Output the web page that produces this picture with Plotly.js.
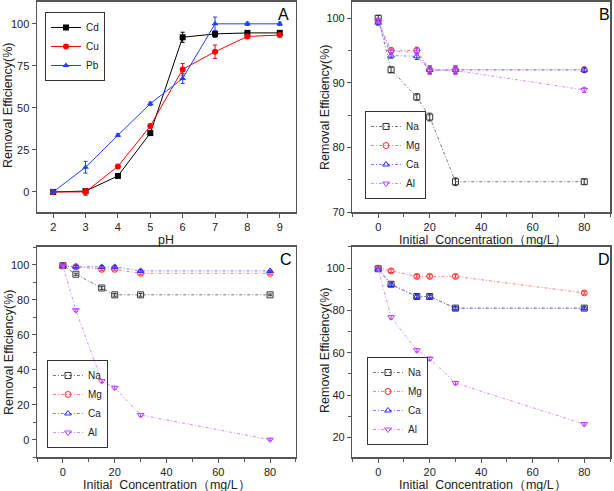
<!DOCTYPE html>
<html>
<head>
<meta charset="utf-8">
<script src="https://cdn.plot.ly/plotly-3.0.1.min.js"></script>
<style>html,body{margin:0;padding:0;background:#fff;}#chart{width:614px;height:491px;}</style>
</head>
<body>
<div id="chart"></div>
<script>
// ---- Panel A data (pH effect) ----
const pH = [2, 3, 4, 5, 6, 7, 8, 9];
const cdA = [0, 0.5, 9.5, 35, 92, 94, 94.6, 94.6];
const cuA = [0, 0, 15.2, 39.2, 72.9, 83.4, 92.5, 93.3];
const pbA = [0, 14.7, 33.7, 52.5, 67.5, 100, 100, 100];
const cdErr = [1, 1.5, 0.8, 1, 3, 2, 1, 1];
const cuErr = [1, 2, 0.8, 1, 3.5, 4, 1, 1];
const pbErr = [1, 3.5, 0.8, 1, 3, 4, 1, 1];

// ---- Panels B, C, D data (coexisting ions) ----
const conc = [0, 5, 15, 20, 30, 80];
const ions = ['Na', 'Mg', 'Ca', 'Al'];

const naB = [100, 92.0, 87.8, 84.7, 74.7, 74.7];
const mgB = [99.5, 95.0, 95.0, 92.0, 92.0, 92.0];
const caB = [99.3, 94.2, 94.1, 92.0, 92.0, 92.0];
const alB = [99.6, 94.8, 94.8, 91.9, 91.9, 88.9];
const errB = [0.4, 0.4, 0.5, 0.6, 0.6, 0.4];

const naC = [99.6, 94.7, 86.8, 82.9, 82.9, 82.9];
const mgC = [99.5, 99.0, 97.5, 97.5, 95.2, 95.2];
const caC = [99.5, 99.0, 98.9, 98.9, 96.6, 96.6];
const alC = [99.5, 74.1, 33.5, 29.7, 14.1, 0];
const errC = [0.5, 0.6, 0.8, 0.8, 0.8, 0.5];

const naD = [99.7, 92.4, 86.6, 86.6, 81.1, 81.1];
const mgD = [100, 98.7, 96.1, 96.1, 96.1, 88.3];
const caD = [99.5, 92.1, 86.6, 86.6, 81.0, 81.0];
const alD = [99.7, 76.8, 61.2, 57.2, 45.7, 26.3];
const errD = [0.5, 0.8, 0.8, 0.8, 0.8, 0.6];

const FONT = 'Liberation Sans, Arial, sans-serif';
const ionColors = {Na: '#333333', Mg: '#ff2a2a', Ca: '#2a2aff', Al: '#c040ff'};
const ionLine = {Na: '#777777', Mg: '#ff8080', Ca: '#8080ff', Al: '#dd88ff'};
const ionSymbol = {Na: 'square-open', Mg: 'circle-open', Ca: 'triangle-up-open', Al: 'triangle-down-open'};

const traces = [];
function aTrace(name, y, err, color, symbol) {
  traces.push({
    x: pH, y: y, name: name, type: 'scatter', mode: 'lines+markers',
    xaxis: 'x', yaxis: 'y', legend: 'legend',
    line: {color: color, width: 1},
    marker: {color: color, symbol: symbol, size: 6},
    error_y: {type: 'data', array: err, visible: true, color: color, thickness: 1, width: 2}
  });
}
aTrace('Cd', cdA, cdErr, '#000000', 'square');
aTrace('Cu', cuA, cuErr, '#ff0000', 'circle');
aTrace('Pb', pbA, pbErr, '#2040ff', 'triangle-up');

function ionTraces(data, err, ax, leg) {
  ions.forEach((ion, i) => {
    traces.push({
      x: conc, y: data[i], name: ion, type: 'scatter', mode: 'lines+markers',
      xaxis: 'x' + ax, yaxis: 'y' + ax, legend: leg,
      line: {color: ionLine[ion], width: 1, dash: '3px,2px,1px,2px'},
      marker: {color: ionColors[ion], symbol: ionSymbol[ion], size: 6, line: {width: 1, color: ionColors[ion]}},
      error_y: {type: 'data', array: err, visible: true, color: ionColors[ion], thickness: 1, width: 2}
    });
  });
}
ionTraces([naB, mgB, caB, alB], errB, '2', 'legend2');
ionTraces([naC, mgC, caC, alC], errC, '3', 'legend3');
ionTraces([naD, mgD, caD, alD], errD, '4', 'legend4');

const frame = {
  showline: true, mirror: true, linecolor: '#555555', linewidth: 1.5,
  ticks: 'outside', ticklen: 4, tickcolor: '#555555', tickwidth: 1,
  showgrid: false, zeroline: false,
  tickfont: {family: FONT, size: 11, color: '#222'},
};
function ax(dom, anchor, range, dtick, minor) {
  const o = Object.assign({}, frame, {domain: dom, anchor: anchor, range: range, dtick: dtick, tick0: 0});
  if (minor) o.minor = {dtick: minor, ticks: 'outside', ticklen: 3, tickcolor: '#555555'};
  return o;
}
const topY = [0.568, 0.996];
const botY = [0.069, 0.497];
const leftX = [0.0603, 0.482];
const rightX = [0.574, 0.9935];
const concTitle = 'Initial  Concentration（mg/L）';
const yTitle = 'Removal Efficiency(%)';

function legendAt(x, y, yanchor) {
  return {x: x, y: y, xanchor: 'left', yanchor: yanchor, bgcolor: 'rgba(255,255,255,0)',
    bordercolor: '#333333', borderwidth: 1, font: {family: FONT, size: 10, color: '#222'},
    tracegroupgap: 0, itemwidth: 30};
}

function paperText(list, size, color, angle) {
  return list.map(a => ({text: a.text, x: a.x / 614, y: 1 - a.y / 491, xref: 'paper', yref: 'paper',
    showarrow: false, xanchor: 'center', yanchor: 'middle', textangle: angle,
    font: {family: FONT, size: size, color: color}}));
}
const panelLetters = paperText([
  {text: 'A', x: 283, y: 14}, {text: 'B', x: 604, y: 14},
  {text: 'C', x: 286, y: 259}, {text: 'D', x: 604, y: 259}
], 16, '#000', 0);
const xTitles = paperText([
  {text: 'pH', x: 166, y: 240}, {text: concTitle, x: 483, y: 240},
  {text: concTitle, x: 167, y: 485}, {text: concTitle, x: 483, y: 485}
], 12.5, '#222', 0);
const yTitles = paperText([
  {text: yTitle, x: 8, y: 105}, {text: yTitle, x: 325, y: 107},
  {text: yTitle, x: 9, y: 352}, {text: yTitle, x: 325, y: 350}
], 12.5, '#222', -90);

const layout = {
  width: 614, height: 491,
  margin: {l: 0, r: 0, t: 0, b: 0},
  paper_bgcolor: '#ffffff', plot_bgcolor: '#ffffff',
  font: {family: FONT},
  xaxis: ax(leftX, 'y', [1.5, 9.5], 1, null),
  yaxis: ax(topY, 'x', [-12, 113], 25, null),
  xaxis2: ax(rightX, 'y2', [-10, 90], 20, 10),
  yaxis2: ax(topY, 'x2', [70, 102.5], 10, 5),
  xaxis3: ax(leftX, 'y3', [-10, 90], 20, 10),
  yaxis3: ax(botY, 'x3', [-10, 110.3], 20, 10),
  xaxis4: ax(rightX, 'y4', [-10, 90], 20, 10),
  yaxis4: ax(botY, 'x4', [10.7, 110], 20, 10),
  legend: legendAt(0.0733, 0.9756, 'top'),
  legend2: legendAt(0.5945, 0.5947, 'bottom'),
  legend3: legendAt(0.0765, 0.0876, 'bottom'),
  legend4: legendAt(0.5977, 0.0937, 'bottom'),
  showlegend: true,
  annotations: panelLetters.concat(xTitles, yTitles)
};

Plotly.newPlot('chart', traces, layout, {displayModeBar: false, staticPlot: true});
</script>
</body>
</html>
